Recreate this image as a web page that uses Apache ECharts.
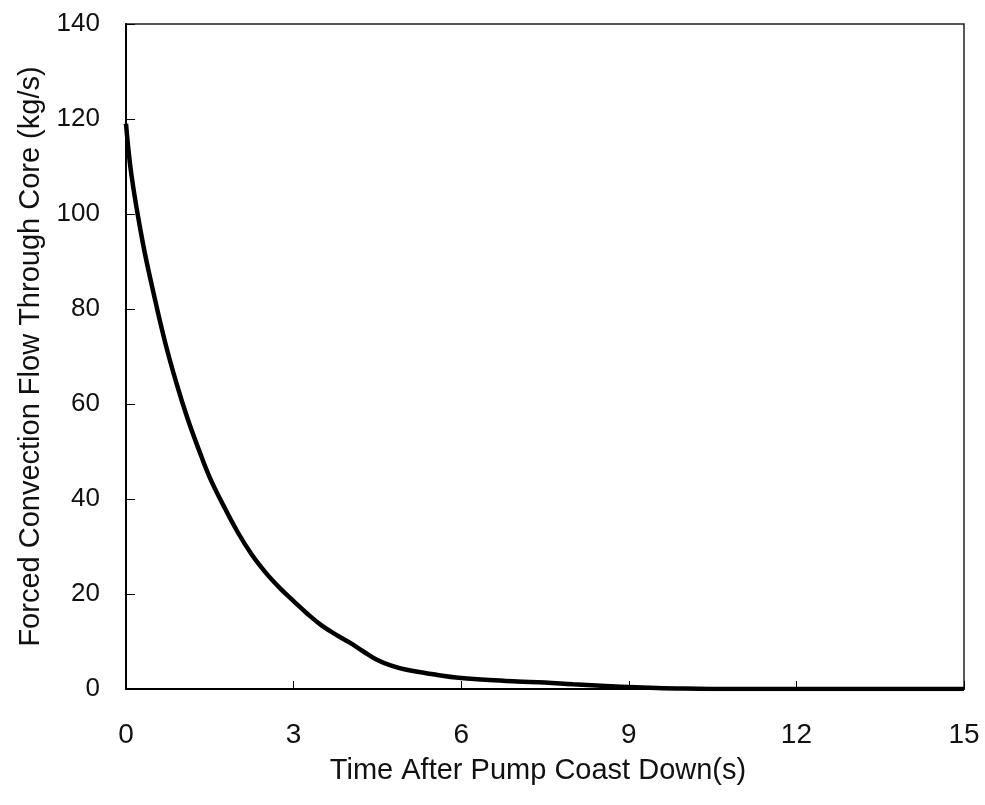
<!DOCTYPE html>
<html>
<head>
<meta charset="utf-8">
<script src="https://cdn.jsdelivr.net/npm/echarts@6/dist/echarts.min.js"></script>
<style>
html,body{margin:0;padding:0;background:#fff;}
#chart{width:985px;height:805px;}
</style>
</head>
<body>
<div id="chart"></div>
<script>
const timeS = [0, 0.1, 0.3, 0.5, 0.7, 0.9, 1.1, 1.3, 1.5, 1.75, 2.0, 2.25, 2.5, 2.75, 3.0, 3.25, 3.5, 3.75, 4.0, 4.25, 4.5, 4.75, 5.0, 5.5, 6.0, 6.5, 7.0, 7.5, 8.0, 8.5, 9.0, 9.5, 10, 11, 12, 13, 14, 15];
const flowKgS = [119, 108, 94, 83, 73, 64.5, 57, 50.5, 44.5, 38.5, 33, 28.3, 24.5, 21.3, 18.5, 15.8, 13.4, 11.5, 9.8, 7.9, 6.1, 4.9, 4.1, 3.1, 2.3, 1.9, 1.6, 1.35, 1.0, 0.7, 0.4, 0.2, 0.1, 0, 0, 0, 0, 0];
const xTicks = [0, 3, 6, 9, 12, 15];
const yTicks = [0, 20, 40, 60, 80, 100, 120, 140];
const xTitle = 'Time After Pump Coast Down(s)';
const yTitle = 'Forced Convection Flow Through Core (kg/s)';

const font = '"Liberation Sans", Arial, sans-serif';
const chart = echarts.init(document.getElementById('chart'), null, {renderer: 'canvas'});
chart.setOption({
  animation: false,
  backgroundColor: '#fff',
  grid: {left: 126, right: 21, top: 24, bottom: 116, show: true, borderColor: '#222', borderWidth: 1.5, containLabel: false},
  xAxis: {
    type: 'value', min: xTicks[0], max: xTicks[xTicks.length - 1], interval: 3,
    name: xTitle, nameLocation: 'middle', nameGap: 67,
    nameTextStyle: {color: '#111', fontSize: 29, fontFamily: font, padding: [0, 14, 0, 0]},
    axisLine: {show: true, lineStyle: {color: '#000', width: 2}},
    axisTick: {show: true, inside: true, length: 8, lineStyle: {color: '#000', width: 1}},
    axisLabel: {color: '#111', fontSize: 28, fontFamily: font, margin: 32},
    splitLine: {show: false}
  },
  yAxis: {
    type: 'value', min: yTicks[0], max: yTicks[yTicks.length - 1], interval: 20,
    name: yTitle, nameLocation: 'middle', nameGap: 80,
    nameTextStyle: {color: '#111', fontSize: 29, fontFamily: font},
    axisLine: {show: true, lineStyle: {color: '#000', width: 2}},
    axisTick: {show: true, inside: true, length: 9, lineStyle: {color: '#000', width: 1}},
    axisLabel: {color: '#111', fontSize: 26, fontFamily: font, margin: 26},
    splitLine: {show: false}
  },
  series: [{
    type: 'line',
    data: timeS.map((t, i) => [t, flowKgS[i]]),
    smooth: 0.4,
    showSymbol: false,
    lineStyle: {color: '#000', width: 4.5}
  }]
});
</script>
</body>
</html>
